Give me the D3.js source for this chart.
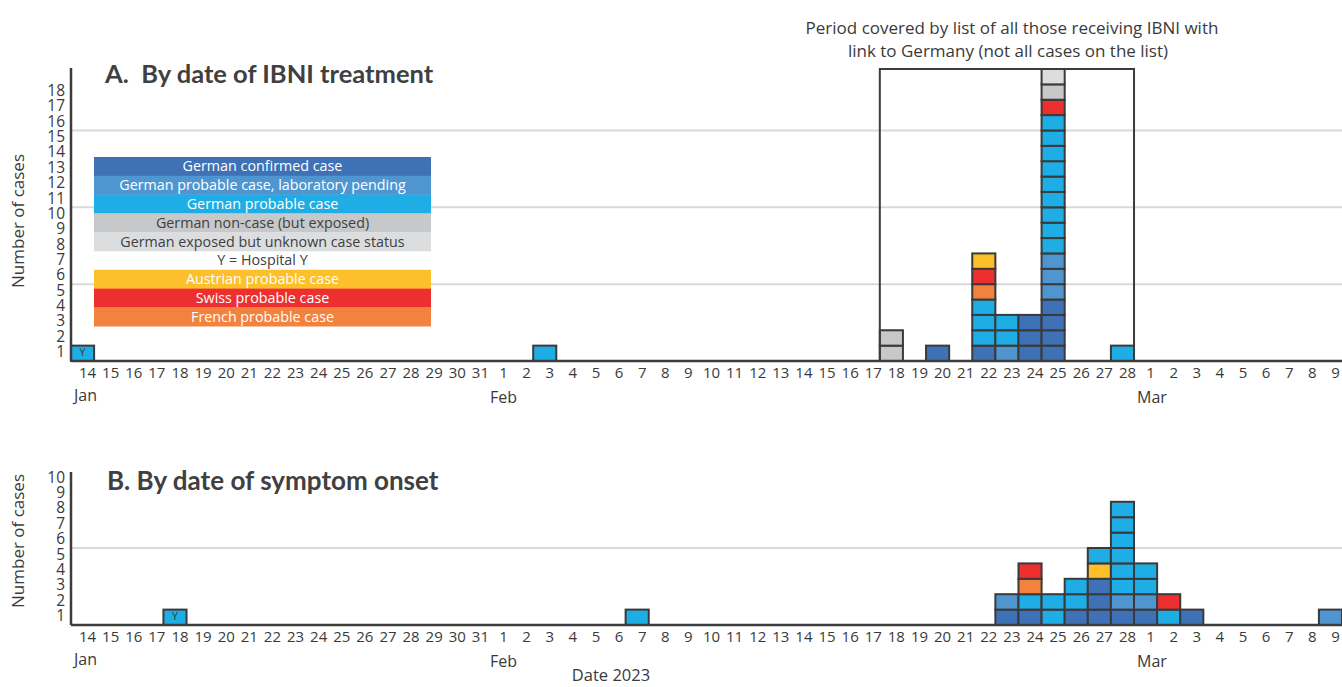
<!DOCTYPE html>
<html>
<head>
<meta charset="utf-8">
<title>IBNI cases, Germany 2023</title>
<script src="https://cdn.jsdelivr.net/npm/d3@7/dist/d3.min.js"></script>
<style>
  html, body { margin: 0; padding: 0; background: #fff; }
  svg text { font-family: "Open Sans", "Noto Sans", sans-serif; }
  svg text.panel-title { font-family: "Lato", "Open Sans", sans-serif; }
</style>
</head>
<body>
<svg id="chart" width="1342" height="687"></svg>
<script>
// ---- Case status categories (legend order) ----
const statusKeys   = ["conf", "pend", "prob", "non", "unk", "aut", "swi", "fra"];
const statusLabels = [
  "German confirmed case",
  "German probable case, laboratory pending",
  "German probable case",
  "German non-case (but exposed)",
  "German exposed but unknown case status",
  "Austrian probable case",
  "Swiss probable case",
  "French probable case"
];
const statusColors = ["#3f71b7", "#4f96d1", "#1fade5", "#c7c8ca", "#dcdddf", "#fdbf2a", "#ee2f30", "#f2823d"];
const statusText   = ["#ffffff", "#ffffff", "#ffffff", "#404040", "#404040", "#ffffff", "#ffffff", "#ffffff"];

// ---- Time axis: one band per day ----
const firstDay = new Date(2023, 0, 14);
const lastDay  = new Date(2023, 2, 9);
const monthStarts = ["2023-01-14", "2023-02-01", "2023-03-01"];
const monthNames  = ["Jan", "Feb", "Mar"];

// ---- A. By date of IBNI treatment: cells of each day, bottom to top ----
const treatmentDays = ["2023-01-14", "2023-02-03", "2023-02-18", "2023-02-20", "2023-02-22",
                       "2023-02-23", "2023-02-24", "2023-02-25", "2023-02-28"];
const treatmentCells = [
  ["prob"],
  ["prob"],
  ["non", "non"],
  ["conf"],
  ["conf", "prob", "prob", "prob", "fra", "swi", "aut"],
  ["pend", "prob", "prob"],
  ["conf", "conf", "conf"],
  ["conf", "conf", "conf", "conf", "pend", "pend", "pend",
   "prob", "prob", "prob", "prob", "prob", "prob", "prob", "prob", "prob",
   "swi", "non", "unk"],
  ["prob"]
];
const treatmentHospitalY = ["2023-01-14"];
const treatmentTicks = d3.range(1, 19);
const treatmentGrid = [5, 10, 15];
const listPeriod = ["2023-02-18", "2023-02-28"];

// ---- B. By date of symptom onset ----
const onsetDays = ["2023-01-18", "2023-02-07", "2023-02-23", "2023-02-24", "2023-02-25", "2023-02-26",
                   "2023-02-27", "2023-02-28", "2023-03-01", "2023-03-02", "2023-03-03", "2023-03-09"];
const onsetCells = [
  ["prob"],
  ["prob"],
  ["conf", "pend"],
  ["conf", "prob", "fra", "swi"],
  ["prob", "prob"],
  ["conf", "prob", "prob"],
  ["conf", "conf", "conf", "aut", "prob"],
  ["conf", "pend", "prob", "prob", "prob", "prob", "prob", "prob"],
  ["conf", "pend", "prob", "prob"],
  ["prob", "swi"],
  ["conf"],
  ["pend"]
];
const onsetHospitalY = ["2023-01-18"];
const onsetTicks = d3.range(1, 11);
const onsetGrid = [5];

// ---------------------------------------------------------------
const svg = d3.select("#chart");
const parse = d3.timeParse("%Y-%m-%d");
const dayKey = d3.timeFormat("%Y-%m-%d");
const allDays = d3.timeDay.range(firstDay, d3.timeDay.offset(lastDay, 1)).map(dayKey);

const x = d3.scaleBand().domain(allDays).range([71, 1342]).paddingInner(0).paddingOuter(0);
const colorOf = d3.scaleOrdinal().domain(statusKeys).range(statusColors);

const axisColor = "#3c3c3c";
const labelColor = "#3a3a3a";

function panel(opts) {
  const { y, ticks, grid, days, cells, hospital, title, titleY, yTitleY, top } = opts;
  const g = svg.append("g");
  const base = y(0);

  // horizontal grid lines
  g.selectAll("line.grid").data(grid).join("line")
    .attr("x1", 71).attr("x2", 1342)
    .attr("y1", d => y(d)).attr("y2", d => y(d))
    .attr("stroke", "#d9d9d9").attr("stroke-width", 2);

  // stacked cells
  const flat = [];
  days.forEach((d, i) => cells[i].forEach((s, j) => flat.push({ day: d, status: s, level: j })));
  g.selectAll("rect.cell").data(flat).join("rect")
    .attr("x", d => x(d.day))
    .attr("y", d => y(d.level + 1))
    .attr("width", x.bandwidth())
    .attr("height", d => y(d.level) - y(d.level + 1))
    .attr("fill", d => colorOf(d.status))
    .attr("stroke", "#3a3a3a").attr("stroke-width", 2);

  // hospital marker
  g.selectAll("text.hosp").data(hospital).join("text")
    .attr("x", d => x(d) + x.bandwidth() / 2)
    .attr("y", y(1) + 10)
    .attr("text-anchor", "middle")
    .attr("font-size", 10.5).attr("fill", "#3a3a3a")
    .text("Y");

  // y axis
  g.append("line").attr("x1", 71).attr("x2", 71).attr("y1", top).attr("y2", base)
    .attr("stroke", axisColor).attr("stroke-width", 2.5);
  g.selectAll("text.ytick").data(ticks).join("text")
    .attr("x", 65).attr("y", d => y(d - 0.4))
    .attr("dy", "0.35em").attr("text-anchor", "end")
    .attr("font-size", 15.5).attr("fill", labelColor)
    .text(d => d);

  // x axis
  g.append("line").attr("x1", 71).attr("x2", 1342).attr("y1", base).attr("y2", base)
    .attr("stroke", axisColor).attr("stroke-width", 2.5);
  g.selectAll("text.xtick").data(allDays).join("text")
    .attr("x", d => x(d) + x.bandwidth() / 2 + 5)
    .attr("y", base + 12).attr("dy", "0.35em")
    .attr("text-anchor", "middle")
    .attr("font-size", 15).attr("fill", labelColor)
    .text(d => parse(d).getDate());
  g.selectAll("text.month").data(monthStarts).join("text")
    .attr("x", d => x(d) + 3)
    .attr("y", (d, i) => base + (i === 0 ? 34 : 36)).attr("dy", "0.35em")
    .attr("font-size", 16).attr("fill", labelColor)
    .text((d, i) => monthNames[i]);

  // y axis title
  g.append("text")
    .attr("transform", `translate(18,${yTitleY}) rotate(-90)`)
    .attr("dy", "0.35em").attr("text-anchor", "middle")
    .attr("font-size", 17).attr("fill", labelColor)
    .text("Number of cases");

  // panel title
  g.append("text")
    .attr("class", "panel-title")
    .attr("x", title.x).attr("y", titleY)
    .attr("font-size", title.size).attr("font-weight", "bold").attr("fill", "#404040")
    .attr("xml:space", "preserve")
    .text(title.text);
  return g;
}

// Panel A
const yA = d3.scaleLinear().domain([0, 19]).range([361, 69]);
const gA = panel({
  y: yA, ticks: treatmentTicks, grid: treatmentGrid,
  days: treatmentDays, cells: treatmentCells, hospital: treatmentHospitalY,
  title: { x: 105, text: "A.  By date of IBNI treatment", size: 25.5 }, titleY: 83, yTitleY: 221, top: 68
});

// Box marking the period covered by the list
gA.append("path")
  .attr("d", `M${x(listPeriod[0])},${yA(0)} V${yA(19)} H${x(listPeriod[1]) + x.bandwidth()} V${yA(0)}`)
  .attr("fill", "none").attr("stroke", axisColor).attr("stroke-width", 2);
gA.append("text")
  .attr("x", 1012).attr("y", 28).attr("dy", "0.35em").attr("text-anchor", "middle")
  .attr("font-size", 17).attr("fill", labelColor)
  .text("Period covered by list of all those receiving IBNI with");
gA.append("text")
  .attr("x", 1008).attr("y", 51).attr("dy", "0.35em").attr("text-anchor", "middle")
  .attr("font-size", 17).attr("fill", labelColor)
  .text("link to Germany (not all cases on the list)");

// Legend
const legendRows = [
  ...statusKeys.slice(0, 5).map((k, i) => ({ key: k, label: statusLabels[i], fill: statusColors[i], text: statusText[i] })),
  { key: "hosp", label: "Y = Hospital Y", fill: "none", text: "#404040" },
  ...statusKeys.slice(5).map((k, i) => ({ key: k, label: statusLabels[i + 5], fill: statusColors[i + 5], text: statusText[i + 5] }))
];
const rowH = 18.8;
const legend = gA.append("g").attr("transform", "translate(94,157)");
const rows = legend.selectAll("g").data(legendRows).join("g")
  .attr("transform", (d, i) => `translate(0,${i * rowH})`);
rows.append("rect").attr("width", 337).attr("height", rowH + 0.3).attr("fill", d => d.fill);
rows.append("text").attr("x", 168.5).attr("y", rowH / 2).attr("dy", "0.35em")
  .attr("text-anchor", "middle").attr("font-size", 14.3).attr("fill", d => d.text)
  .text(d => d.label);

// Panel B
const yB = d3.scaleLinear().domain([0, 10]).range([625, 471]);
panel({
  y: yB, ticks: onsetTicks, grid: onsetGrid,
  days: onsetDays, cells: onsetCells, hospital: onsetHospitalY,
  title: { x: 107, text: "B. By date of symptom onset", size: 26 }, titleY: 490, yTitleY: 541, top: 472
});

svg.append("text")
  .attr("x", 611).attr("y", 675).attr("dy", "0.35em").attr("text-anchor", "middle")
  .attr("font-size", 16.5).attr("fill", labelColor)
  .text("Date 2023");
</script>
</body>
</html>
